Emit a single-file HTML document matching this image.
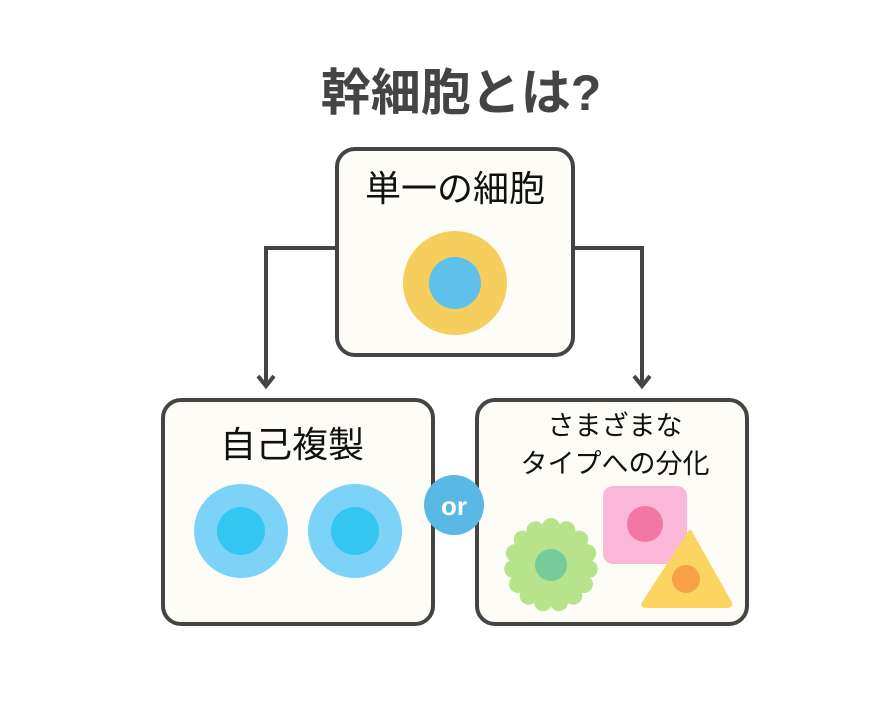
<!DOCTYPE html>
<html><head><meta charset="utf-8"><style>
body{margin:0;background:#fff;}
svg text{font-family:"Liberation Sans","Noto Sans CJK JP",sans-serif;}
</style></head><body>
<svg width="883" height="720" viewBox="0 0 883 720" xmlns="http://www.w3.org/2000/svg">
<rect width="883" height="720" fill="#fff"/>
<text x="461" y="110" font-size="50" font-weight="bold" fill="#444" text-anchor="middle">幹細胞とは?</text>
<g stroke="#444" stroke-width="4" fill="none">
<polyline points="336,248 266,248 266,386"/>
<polyline points="574,248 642,248 642,386"/>
<polyline points="258,376 266,386 274,376"/>
<polyline points="634,376 642,386 650,376"/>
</g>
<rect x="337" y="149" width="236" height="206" rx="18" fill="#fdfcf6" stroke="#444" stroke-width="4"/>
<text x="455" y="201" font-size="36" fill="#111" text-anchor="middle">単一の細胞</text>
<circle cx="455" cy="283" r="52" fill="#f6ce5d"/>
<circle cx="455" cy="283" r="26" fill="#5fc1e9"/>
<rect x="163" y="400" width="270" height="224" rx="18" fill="#fdfcf6" stroke="#444" stroke-width="4"/>
<text x="292" y="457" font-size="36" fill="#111" text-anchor="middle">自己複製</text>
<circle cx="241" cy="531" r="47" fill="#7dd3f7"/>
<circle cx="241" cy="531" r="24" fill="#33c6f0"/>
<circle cx="355" cy="531" r="47" fill="#7dd3f7"/>
<circle cx="355" cy="531" r="24" fill="#33c6f0"/>
<rect x="477" y="400" width="270" height="224" rx="18" fill="#fdfcf6" stroke="#444" stroke-width="4"/>
<text x="615" y="435" font-size="27" fill="#111" text-anchor="middle">さまざまな</text>
<text x="615" y="473" font-size="27" fill="#111" text-anchor="middle">タイプへの分化</text>
<g fill="#b7e38c">
<circle cx="551" cy="565" r="36"/>
<g id="p"><circle cx="551" cy="527" r="9"/></g>
<use href="#p" transform="rotate(24 551 565)"/><use href="#p" transform="rotate(48 551 565)"/><use href="#p" transform="rotate(72 551 565)"/><use href="#p" transform="rotate(96 551 565)"/><use href="#p" transform="rotate(120 551 565)"/><use href="#p" transform="rotate(144 551 565)"/><use href="#p" transform="rotate(168 551 565)"/><use href="#p" transform="rotate(192 551 565)"/><use href="#p" transform="rotate(216 551 565)"/><use href="#p" transform="rotate(240 551 565)"/><use href="#p" transform="rotate(264 551 565)"/><use href="#p" transform="rotate(288 551 565)"/><use href="#p" transform="rotate(312 551 565)"/><use href="#p" transform="rotate(336 551 565)"/>
</g>
<circle cx="551" cy="565" r="16" fill="#76cc98"/>
<rect x="603" y="486" width="84" height="78" rx="10" fill="#fbb7d7"/>
<circle cx="645" cy="524" r="18" fill="#f276a4"/>
<path d="M690,532 L730,603 Q731,606 727,606 L646,606 Q642,606 644,603 Z" fill="#fbd461" stroke="#fbd461" stroke-width="4" stroke-linejoin="round"/>
<circle cx="686" cy="579" r="14" fill="#f7a045"/>
<circle cx="454" cy="505" r="30" fill="#5ab8e4"/>
<text x="454" y="515" font-size="26" font-weight="bold" fill="#fff" text-anchor="middle">or</text>
</svg>
</body></html>
